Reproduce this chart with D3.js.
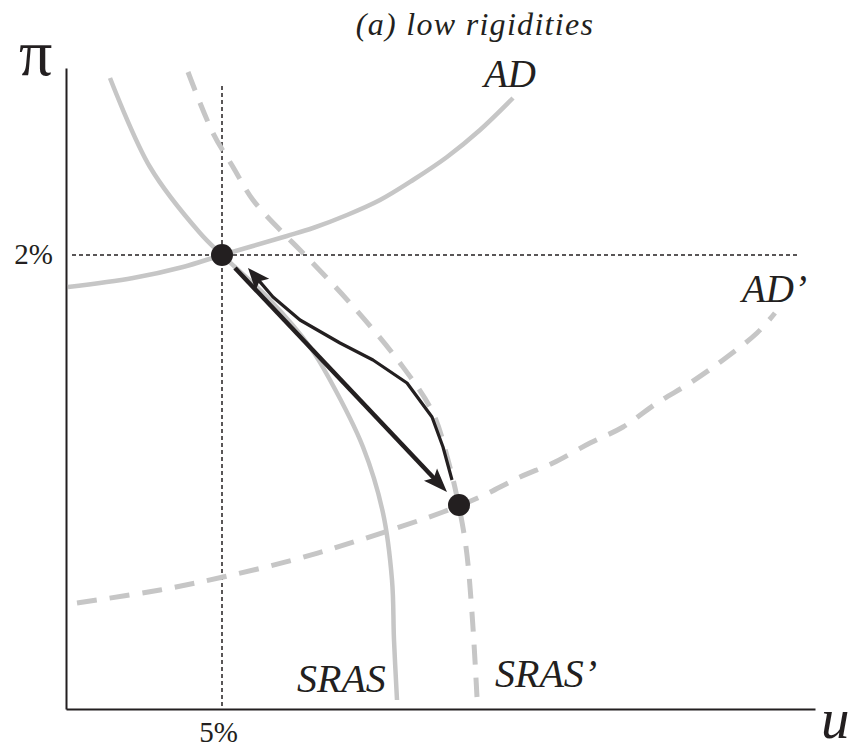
<!DOCTYPE html>
<html><head><meta charset="utf-8">
<script src="https://cdn.jsdelivr.net/npm/d3@7/dist/d3.min.js"></script>
</head><body style="margin:0">
<script>
// ---- data (u in %, π in %) ----
const tickU = [5];
const tickPi = [2];
const AD = [[1.92,1.36],[3.22,1.54],[4.22,1.76],[5,2],[6.3,2.38],[6.82,2.54],[7.5,2.8],[8.16,3.1],[8.82,3.5],[9.5,3.96],[10.16,4.5],[10.82,5.14]];
const ADprime = [[2.1,-4.96],[3.76,-4.7],[5.02,-4.44],[6.42,-4.1],[7.76,-3.7],[9.42,-3.14],[10.16,-2.84],[10.96,-2.44],[11.62,-2.16],[12.36,-1.76],[13.02,-1.44],[13.7,-0.96],[14.36,-0.56],[15.02,-0.1],[15.7,0.44],[16.06,0.84]];
const SRAS = [[2.76,5.54],[3.56,3.76],[4.56,2.44],[5,2],[5.96,1.1],[6.76,0.16],[7.16,-0.5],[7.82,-1.84],[8.22,-3.16],[8.4,-4.5],[8.44,-5.7],[8.5,-6.9]];
const SRASprime = [[4.32,5.66],[4.82,4.44],[5.22,3.76],[5.62,3.1],[6.22,2.44],[6.56,2.1],[7.56,1.04],[8.56,-0.16],[9.22,-1.16],[9.52,-2.1],[9.7,-2.84],[9.88,-3.84],[10.0,-5.16],[10.1,-6.84]];
const equilibria = [[5,2],[9.74,-3]];
const arrowOut = [[5.26,1.74],[9.5,-2.74]];
const arrowBack = [[9.6,-2.5],[9.42,-1.84],[9.2,-1.24],[8.7,-0.56],[8.02,-0.1],[7.36,0.24],[6.56,0.7],[6.02,1.16],[5.52,1.74]];
const refU = [[5,5.38],[5,-7.08]];
const refPi = [[2.0,2],[16.56,2]];

const W=861,H=751;
const FONT='"Liberation Serif", "Times New Roman", Tinos, "Nimbus Roman", Times, serif';
const x = d3.scaleLinear().domain([1.88,16.86]).range([66,815]);
const y = d3.scaleLinear().domain([-7.08,5.74]).range([709,68]);
const svg = d3.select("body").append("svg").attr("width",W).attr("height",H)
  .attr("font-family","Liberation Serif").style("font-family",FONT);
const line = d3.line().x(d=>x(d[0])).y(d=>y(d[1]));
const smooth = d3.line().x(d=>x(d[0])).y(d=>y(d[1])).curve(d3.curveCatmullRom.alpha(0.5));
const dark="#231f20", gray="#c6c6c6";

// reference dotted lines
svg.append("path").attr("d",line(refU)).attr("stroke",dark).attr("stroke-width",1.5).attr("stroke-dasharray","4,3").attr("fill","none");
svg.append("path").attr("d",line(refPi)).attr("stroke",dark).attr("stroke-width",1.5).attr("stroke-dasharray","4,3").attr("fill","none");

// axes
const gx = svg.append("g").attr("transform",`translate(0,${y.range()[0]})`)
  .call(d3.axisBottom(x).tickValues(tickU).tickSize(0).tickFormat(d=>d+"%"));
const gy = svg.append("g").attr("transform",`translate(${x.range()[0]},0)`)
  .call(d3.axisLeft(y).tickValues(tickPi).tickSize(0).tickPadding(13).tickFormat(d=>d+"%"));
[gx,gy].forEach(g=>{
  g.attr("font-family","Liberation Serif").attr("font-size",29);
  g.select(".domain").attr("stroke",dark).attr("stroke-width",2);
  g.selectAll("text").attr("font-family","Liberation Serif").style("font-family",FONT).style("font-size","29px").attr("fill",dark);
});
gx.selectAll("text").attr("y",33).attr("dy",0).attr("dx",-4);
gy.selectAll("text").attr("dy","0.28em");

// curves
svg.append("path").attr("d",smooth(AD)).attr("stroke",gray).attr("stroke-width",4.5).attr("fill","none");
svg.append("path").attr("d",smooth(SRAS)).attr("stroke",gray).attr("stroke-width",4.5).attr("fill","none");
svg.append("path").attr("d",smooth(ADprime)).attr("stroke",gray).attr("stroke-width",5).attr("stroke-dasharray","20,13").attr("fill","none");
svg.append("path").attr("d",smooth(SRASprime)).attr("stroke",gray).attr("stroke-width",5).attr("stroke-dasharray","20,13").attr("fill","none");

// arrows
function arrow(pts, width, len, half){
  const P = pts.map(d=>[x(d[0]),y(d[1])]);
  const tip = P[P.length-1], prev = P[P.length-2];
  const dx=tip[0]-prev[0], dy=tip[1]-prev[1], L=Math.hypot(dx,dy);
  const ux=dx/L, uy=dy/L;
  const base=[tip[0]-ux*len, tip[1]-uy*len];
  const linePts = P.slice(0,-1).concat([[tip[0]-ux*len*0.7, tip[1]-uy*len*0.7]]);
  svg.append("path").attr("d",d3.line()(linePts)).attr("stroke",dark).attr("stroke-width",width).attr("fill","none").attr("stroke-linejoin","round");
  const notch=[tip[0]-ux*len*0.8, tip[1]-uy*len*0.8];
  svg.append("path").attr("d",d3.line()([tip,[base[0]-uy*half, base[1]+ux*half],notch,[base[0]+uy*half, base[1]-ux*half]])+"Z").attr("fill",dark);
}
arrow(arrowOut, 4.5, 24, 9);
arrow(arrowBack, 3.2, 22, 9);

// equilibrium dots
svg.selectAll("circle.eq").data(equilibria).join("circle").attr("class","eq")
  .attr("cx",d=>x(d[0])).attr("cy",d=>y(d[1])).attr("r",11).attr("fill",dark);

// text labels
function label(tx,ty,txt,size,italic,extra){
  const t = svg.append("text").attr("x",tx).attr("y",ty).attr("fill",dark)
    .attr("font-family","Liberation Serif")
    .style("font-family",FONT).style("font-size",size+"px").style("font-style",italic?"italic":"normal").text(txt);
  if(extra) extra(t);
  return t;
}
label(475,35,"(a) low rigidities",32,true,t=>t.attr("text-anchor","middle").style("letter-spacing","1.3px"));
label(19,75,"π",66,false);
label(821,738,"u",57,true);
label(484,87,"AD",39,true);
label(742,302,"AD’",39,true);
label(297,692,"SRAS",40,true);
label(495,687,"SRAS’",40,true);
</script>
</body></html>
